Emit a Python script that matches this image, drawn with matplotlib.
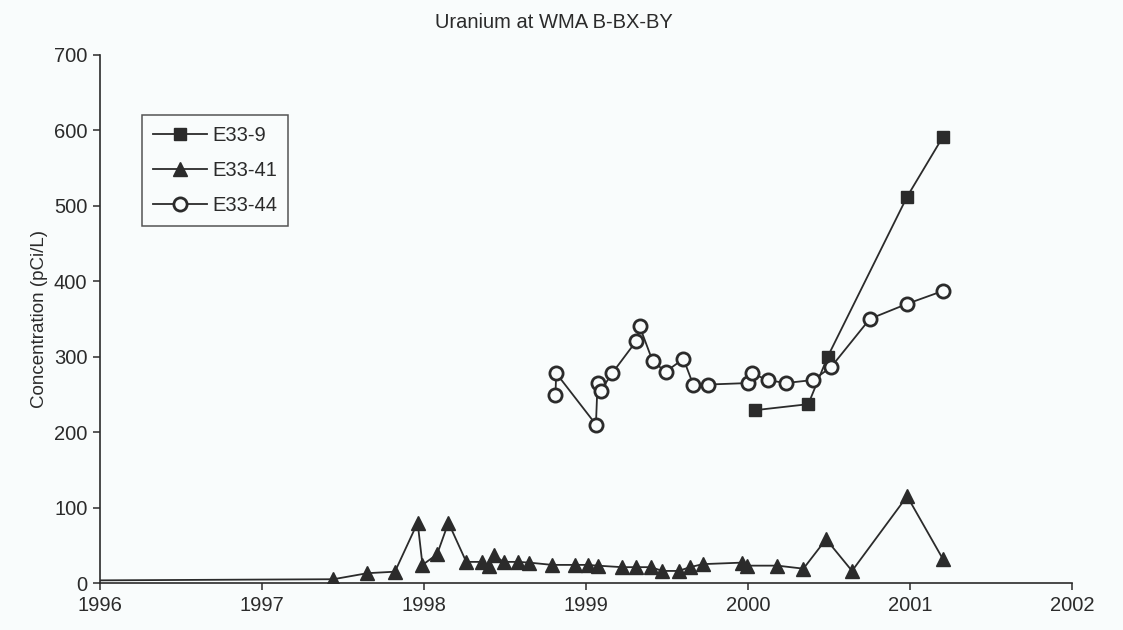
"""
Uranium concentration at WMA B-BX-BY, three wells over time
"""

import matplotlib.pyplot as plt
import numpy as np

plt.rcParams['font.family'] = ['Liberation Sans', 'DejaVu Sans']

# E33-9 (filled squares)
e33_9_dates = [2000.04, 2000.37, 2000.49, 2000.98, 2001.20]
e33_9_vals = [229, 237, 300, 512, 591]

# E33-41 (filled triangles), first point lies before the axis start
e33_41_dates = [1995.5, 1997.44, 1997.65, 1997.82, 1997.96, 1997.99, 1998.08, 1998.15,
                1998.26, 1998.36, 1998.40, 1998.43, 1998.49, 1998.58, 1998.65,
                1998.79, 1998.93, 1999.01, 1999.07, 1999.22, 1999.31,
                1999.40, 1999.47, 1999.57, 1999.64, 1999.72, 1999.96, 1999.99,
                2000.18, 2000.34, 2000.48, 2000.64, 2000.98, 2001.20]
e33_41_vals = [3, 5, 13, 15, 80, 24, 38, 80,
               28, 28, 23, 37, 28, 28, 27,
               24, 24, 24, 23, 21, 21,
               21, 16, 16, 21, 25, 27, 23,
               23, 19, 58, 16, 115, 32]

# E33-44 (open circles)
e33_44_dates = [1998.81, 1998.815, 1999.06, 1999.07, 1999.09, 1999.16, 1999.31, 1999.33,
                1999.41, 1999.49, 1999.60, 1999.66, 1999.75, 2000.00, 2000.02,
                2000.12, 2000.23, 2000.40, 2000.51, 2000.75, 2000.98, 2001.20]
e33_44_vals = [249, 278, 210, 265, 255, 278, 321, 340,
               294, 280, 297, 263, 263, 265, 278,
               269, 265, 269, 286, 350, 370, 387]

x_ticks = [1996, 1997, 1998, 1999, 2000, 2001, 2002]
y_ticks = [0, 100, 200, 300, 400, 500, 600, 700]

ink = '#2b2b2b'
bg = '#f9fcfc'

fig = plt.figure(figsize=(11.23, 6.30), dpi=100, facecolor=bg)
ax = fig.add_axes([0.089, 0.0746, 0.866, 0.8384], facecolor=bg)

ax.plot(e33_9_dates, e33_9_vals, color=ink, lw=1.3, marker='s', ms=9,
        mfc=ink, mec=ink, label='E33-9')
ax.plot(e33_41_dates, e33_41_vals, color=ink, lw=1.3, marker='^', ms=10,
        mfc=ink, mec=ink, label='E33-41')
ax.plot(e33_44_dates, e33_44_vals, color=ink, lw=1.3, marker='o', ms=9.5,
        mfc=bg, mec=ink, mew=2.0, label='E33-44')

ax.set_xlim(1996, 2002)
ax.set_ylim(0, 700)
ax.set_xticks(x_ticks)
ax.set_yticks(y_ticks)
ax.tick_params(labelsize=14.5, colors=ink, length=5, width=1.1, direction='out', pad=4)

for side in ['top', 'right']:
    ax.spines[side].set_visible(False)
for side in ['left', 'bottom']:
    ax.spines[side].set_color(ink)
    ax.spines[side].set_linewidth(1.2)

ax.set_ylabel('Concentration (pCi/L)', fontsize=13.5, color=ink, labelpad=4)
fig.text(0.493, 0.965, 'Uranium at WMA B-BX-BY', ha='center', va='center',
         fontsize=14.5, color=ink)

leg = ax.legend(loc='upper left', bbox_to_anchor=(0.043, 0.886), borderaxespad=0,
                fontsize=14.5, frameon=True, fancybox=False, handlelength=2.7,
                borderpad=0.55, labelspacing=0.8, handletextpad=0.25)
leg.get_frame().set_edgecolor(ink)
leg.get_frame().set_facecolor(bg)
leg.get_frame().set_linewidth(1.1)
for text in leg.get_texts():
    text.set_color(ink)

fig.savefig('out.png', dpi=100, facecolor=bg)
